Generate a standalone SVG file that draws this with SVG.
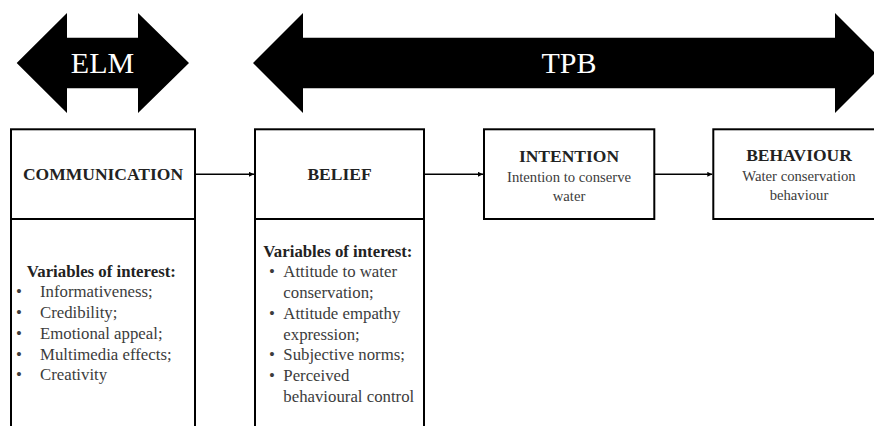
<svg xmlns="http://www.w3.org/2000/svg" width="874" height="426" viewBox="0 0 874 426">
  <style>
    .band { fill: #000; }
    .band-label { font-family: "Liberation Serif", "Times New Roman", serif; font-size: 30px; fill: #fff; text-anchor: middle; }
    .box { fill: #fff; stroke: #000; stroke-width: 2; }
    .title { font-family: "Liberation Serif", "Times New Roman", serif; font-size: 17.5px; font-weight: bold; fill: #222; text-anchor: middle; }
    .sub { font-family: "Liberation Serif", "Times New Roman", serif; font-size: 14.7px; fill: #3c3c3c; text-anchor: middle; }
    .head { font-family: "Liberation Serif", "Times New Roman", serif; font-size: 16.8px; font-weight: bold; fill: #222; }
    .item { font-family: "Liberation Serif", "Times New Roman", serif; font-size: 16.8px; fill: #3c3c3c; }
    .link { stroke: #000; stroke-width: 1.6; fill: none; marker-end: url(#tip); }
  </style>
  <defs>
    <marker id="tip" viewBox="0 0 10 10" refX="10" refY="5" markerWidth="5" markerHeight="5" markerUnits="userSpaceOnUse" orient="auto">
      <path d="M0,0 L10,5 L0,10 z" fill="#000"/>
    </marker>
  </defs>

  <rect width="874" height="426" fill="#fff"/>

  <!-- theory bands -->
  <g id="elm">
    <polygon class="band" points="16.7,63 67,13 67,37.7 138,37.7 138,13 189,63 138,113 138,88.3 67,88.3 67,113"/>
    <text class="band-label" x="102.5" y="72.5">ELM</text>
  </g>
  <g id="tpb">
    <polygon class="band" points="253,63 303,13 303,37.7 835,37.7 835,13 885,63 835,113 835,88.3 303,88.3 303,113"/>
    <text class="band-label" x="569" y="72.5">TPB</text>
  </g>

  <!-- stage boxes -->
  <g id="communication">
    <rect class="box" x="11" y="129.3" width="184" height="310"/>
    <line x1="11" y1="219" x2="195" y2="219" stroke="#000" stroke-width="2"/>
    <text class="title" x="103" y="180">COMMUNICATION</text>
    <text class="head" x="26.7" y="276.7">Variables of interest:</text>
    <g class="item">
      <text x="16" y="297.4">•</text><text x="40" y="297.4">Informativeness;</text>
      <text x="16" y="318.1">•</text><text x="40" y="318.1">Credibility;</text>
      <text x="16" y="338.8">•</text><text x="40" y="338.8">Emotional appeal;</text>
      <text x="16" y="359.5">•</text><text x="40" y="359.5">Multimedia effects;</text>
      <text x="16" y="380.2">•</text><text x="40" y="380.2">Creativity</text>
    </g>
  </g>

  <g id="belief">
    <rect class="box" x="255" y="129.3" width="169" height="310"/>
    <line x1="255" y1="219" x2="424" y2="219" stroke="#000" stroke-width="2"/>
    <text class="title" x="339.5" y="180">BELIEF</text>
    <text class="head" x="263.3" y="256.7">Variables of interest:</text>
    <g class="item">
      <text x="269" y="277.4">•</text><text x="283.3" y="277.4">Attitude to water</text>
      <text x="283.3" y="298.1">conservation;</text>
      <text x="269" y="318.8">•</text><text x="283.3" y="318.8">Attitude empathy</text>
      <text x="283.3" y="339.5">expression;</text>
      <text x="269" y="360.2">•</text><text x="283.3" y="360.2">Subjective norms;</text>
      <text x="269" y="380.9">•</text><text x="283.3" y="380.9">Perceived</text>
      <text x="283.3" y="401.6">behavioural control</text>
    </g>
  </g>

  <g id="intention">
    <rect class="box" x="484" y="129.3" width="170.3" height="89.7"/>
    <text class="title" x="569" y="161.5">INTENTION</text>
    <text class="sub" x="569" y="181.5">Intention to conserve</text>
    <text class="sub" x="569" y="200.5">water</text>
  </g>

  <g id="behaviour">
    <rect class="box" x="713.3" y="129.3" width="171.4" height="89.7"/>
    <text class="title" x="799" y="161">BEHAVIOUR</text>
    <text class="sub" x="799" y="181">Water conservation</text>
    <text class="sub" x="799" y="200">behaviour</text>
  </g>

  <!-- flow between stages -->
  <g id="connectors">
    <line class="link" x1="195" y1="174.3" x2="254" y2="174.3"/>
    <line class="link" x1="424" y1="174.3" x2="483" y2="174.3"/>
    <line class="link" x1="654.3" y1="174.3" x2="712.3" y2="174.3"/>
  </g>
</svg>
